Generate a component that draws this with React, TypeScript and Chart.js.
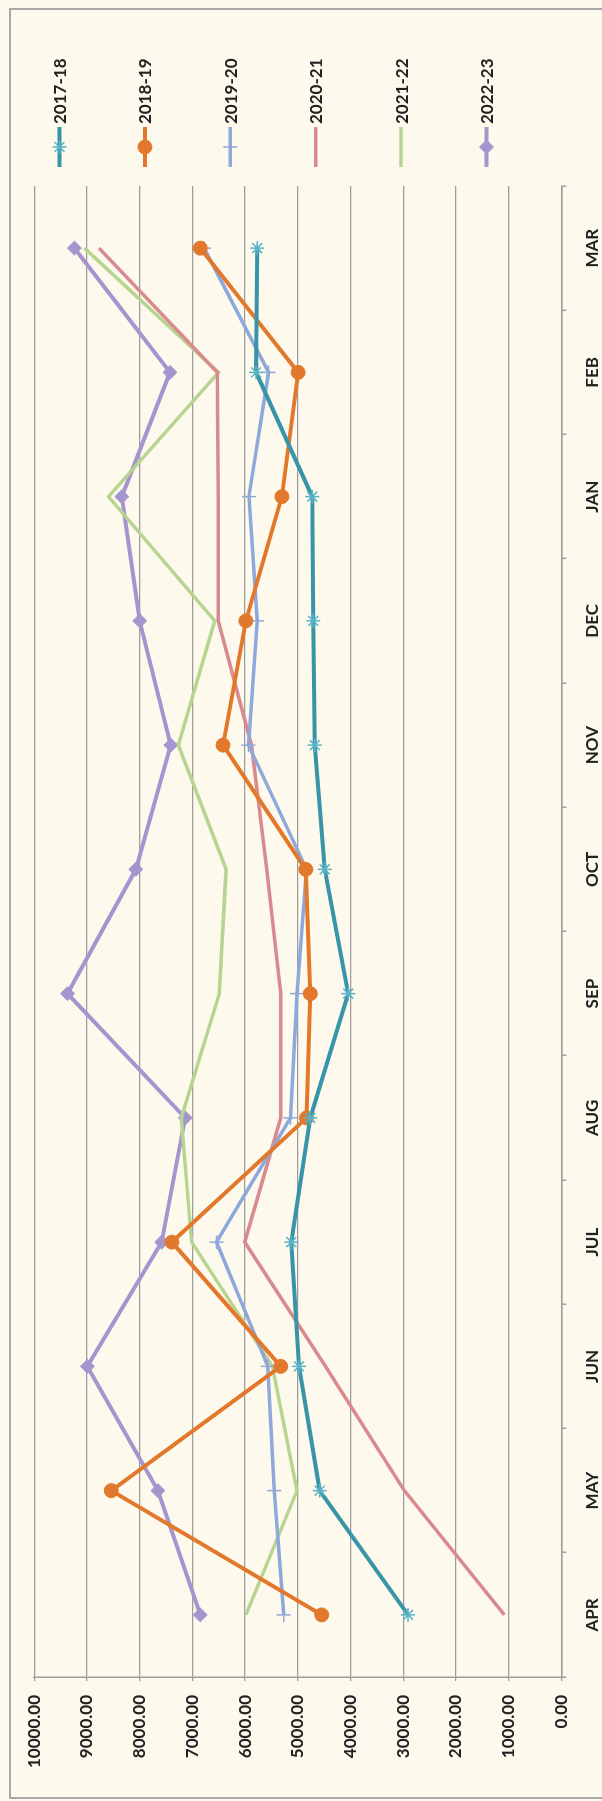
import React, { useEffect, useRef } from 'react';
import { Chart, registerables } from 'chart.js';

Chart.register(...registerables);

const months = ['APR', 'MAY', 'JUN', 'JUL', 'AUG', 'SEP', 'OCT', 'NOV', 'DEC', 'JAN', 'FEB', 'MAR'];
const seriesNames = ['2017-18', '2018-19', '2019-20', '2020-21', '2021-22', '2022-23'];
const s2017_18 = [2906, 4583, 4978, 5122, 4762, 4043, 4489, 4676, 4705, 4726, 5790, 5770];
const s2018_19 = [4545, 8538, 5323, 7388, 4834, 4761, 4848, 6417, 5985, 5301, 4992, 6850];
const s2019_20 = [5266, 5445, 5568, 6540, 5137, 5014, 4834, 5935, 5769, 5927, 5553, 6777];
const s2020_21 = [1079, 2978, 4474, 6006, 5323, 5323, 5590, 5877, 6508, 6510, 6525, 8769];
const s2021_22 = [5985, 5014, 5482, 7014, 7208, 6488, 6359, 7265, 6575, 8590, 6503, 9045];
const s2022_23 = [6849, 7653, 8992, 7582, 7135, 9367, 8072, 7409, 7999, 8337, 7424, 9237];
const valueMin = 0;
const valueMax = 10000;
const valueStep = 1000;

const BG = '#FDF9EC';
const TEXT = '#222222';
const GRID = '#9C9C9C';
const FONT = 'Lato, "Open Sans", sans-serif';

// Original (unrotated) chart box size
const W = 1789;
const H = 594;

function drawMarker(ctx: CanvasRenderingContext2D, style: string, x: number, y: number, r: number, fill: string, stroke: string, bw: number) {
  if (!r) return;
  ctx.save();
  ctx.fillStyle = fill;
  ctx.strokeStyle = stroke;
  ctx.lineWidth = bw;
  ctx.beginPath();
  if (style === 'circle') {
    ctx.arc(x, y, r, 0, Math.PI * 2);
    ctx.fill();
    ctx.stroke();
  } else if (style === 'rectRot') {
    ctx.moveTo(x, y - r);
    ctx.lineTo(x + r, y);
    ctx.lineTo(x, y + r);
    ctx.lineTo(x - r, y);
    ctx.closePath();
    ctx.fill();
    ctx.stroke();
  } else if (style === 'cross') {
    ctx.moveTo(x - r, y);
    ctx.lineTo(x + r, y);
    ctx.moveTo(x, y - r);
    ctx.lineTo(x, y + r);
    ctx.stroke();
  } else if (style === 'star') {
    const d = r * Math.SQRT1_2;
    ctx.moveTo(x - r, y);
    ctx.lineTo(x + r, y);
    ctx.moveTo(x, y - r);
    ctx.lineTo(x, y + r);
    ctx.moveTo(x - d, y - d);
    ctx.lineTo(x + d, y + d);
    ctx.moveTo(x - d, y + d);
    ctx.lineTo(x + d, y - d);
    ctx.stroke();
  }
  ctx.restore();
}

const sideLegend = {
  id: 'sideLegend',
  afterDraw(chart: any) {
    const ctx: CanvasRenderingContext2D = chart.ctx;
    const area = chart.chartArea;
    const x0 = area.right + 19;
    chart.data.datasets.forEach((ds: any, i: number) => {
      const y = 49.5 + i * 85.4;
      ctx.save();
      ctx.strokeStyle = ds.borderColor;
      ctx.lineWidth = ds.borderWidth;
      ctx.beginPath();
      ctx.moveTo(x0, y);
      ctx.lineTo(x0 + 40, y);
      ctx.stroke();
      drawMarker(ctx, ds.pointStyle, x0 + 20, y, ds.pointRadius, ds.pointBackgroundColor, ds.pointBorderColor, ds.pointBorderWidth);
      ctx.fillStyle = TEXT;
      ctx.font = `bold 17px ${FONT}`;
      ctx.textAlign = 'left';
      ctx.textBaseline = 'middle';
      ctx.fillText(ds.label, x0 + 43, y + 1);
      ctx.restore();
    });
  },
};

export default function App() {
  const ref = useRef<HTMLCanvasElement | null>(null);

  useEffect(() => {
    if (!ref.current) return;
    const mk = (label: string, data: number[], color: string, pointStyle: string, radius: number, pointFill: string, pointStroke: string, pbw: number, bw: number) => ({
      label,
      data,
      borderColor: color,
      backgroundColor: color,
      borderWidth: bw,
      pointStyle,
      pointRadius: radius,
      pointHoverRadius: radius,
      pointBackgroundColor: pointFill,
      pointBorderColor: pointStroke,
      pointBorderWidth: pbw,
      tension: 0,
      fill: false,
    });
    const chart = new Chart(ref.current, {
      type: 'line',
      data: {
        labels: months,
        datasets: [
          mk(seriesNames[0], s2017_18, '#3895A8', 'star', 7, '#58B3C8', '#58B3C8', 1.5, 4),
          mk(seriesNames[1], s2018_19, '#E2782C', 'circle', 7, '#E2782C', '#E2782C', 1, 4),
          mk(seriesNames[2], s2019_20, '#8FA8DC', 'cross', 7, '#8FA8DC', '#8FA8DC', 1.5, 3.5),
          mk(seriesNames[3], s2020_21, '#D98A8F', 'line', 0, '#D98A8F', '#D98A8F', 1, 3.5),
          mk(seriesNames[4], s2021_22, '#B8D491', 'line', 0, '#B8D491', '#B8D491', 1, 3.5),
          mk(seriesNames[5], s2022_23, '#A595CE', 'rectRot', 7, '#A595CE', '#A595CE', 1, 4),
        ],
      },
      options: {
        responsive: false,
        animation: false,
        devicePixelRatio: 1,
        layout: { padding: { top: 17.3, right: 177, left: 0, bottom: 0 } },
        plugins: {
          legend: { display: false },
          tooltip: { enabled: false },
        },
        scales: {
          x: {
            type: 'category',
            offset: true,
            grid: {
              display: true,
              drawOnChartArea: false,
              drawTicks: true,
              tickLength: 5,
              offset: true,
              color: GRID,
              lineWidth: 1.5,
            },
            border: { display: true, color: GRID, width: 1.5 },
            ticks: {
              color: TEXT,
              font: { family: FONT, size: 17, weight: 'bold' },
              padding: 16,
              maxRotation: 0,
              autoSkip: false,
            },
            afterFit: (scale: any) => {
              scale.height = H - 551.3;
            },
          },
          y: {
            min: valueMin,
            max: valueMax,
            grid: {
              color: GRID,
              lineWidth: 1.3,
              drawTicks: true,
              tickLength: 4,
            },
            border: { display: true, color: GRID, width: 1.5 },
            ticks: {
              stepSize: valueStep,
              color: TEXT,
              font: { family: FONT, size: 17, weight: 'bold' },
              padding: 14,
              callback: (v: any) => Number(v).toFixed(2),
            },
            afterFit: (scale: any) => {
              scale.width = 121;
            },
          },
        },
      },
      plugins: [sideLegend],
    });
    return () => chart.destroy();
  }, []);

  return (
    <div style={{ position: 'absolute', left: 0, top: 0, width: 602, height: 1801, overflow: 'hidden', background: BG }}>
      <div
        style={{
          position: 'absolute',
          left: 9,
          top: 8,
          width: 640,
          height: 1791,
          border: '2px solid #A8A8A8',
          boxSizing: 'border-box',
        }}
      />
      <div
        style={{
          position: 'absolute',
          left: 10,
          top: 9,
          width: W,
          height: H,
          transformOrigin: '0 0',
          transform: `translate(0px, ${W}px) rotate(-90deg)`,
        }}
      >
        <canvas ref={ref} width={W} height={H} style={{ display: 'block', width: W, height: H }} />
      </div>
    </div>
  );
}
